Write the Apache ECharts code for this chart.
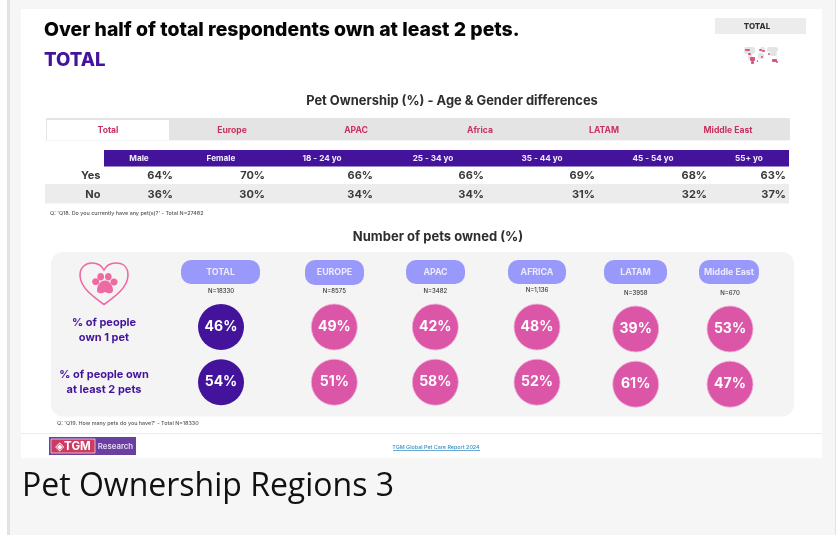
<!DOCTYPE html>
<html><head><meta charset="utf-8">
<style>html,body{margin:0;padding:0;background:#fff}#c{width:836px;height:535px}</style>
<script src="https://cdn.jsdelivr.net/npm/echarts@6/dist/echarts.min.js"></script>
</head><body><div id="c"></div>
<script>
// ---- data ----
const tabs = ['Total','Europe','APAC','Africa','LATAM','Middle East'];
const ownershipColumns = ['Male','Female','18 - 24 yo','25 - 34 yo','35 - 44 yo','45 - 54 yo','55+ yo'];
const ownershipRows = ['Yes','No'];
const ownershipYes = [64,70,66,66,69,68,63];
const ownershipNo = [36,30,34,34,31,32,37];
const regions = ['TOTAL','EUROPE','APAC','AFRICA','LATAM','Middle East'];
const sampleSizes = ['N=18330','N=8575','N=3482','N=1,136','N=3958','N=670'];
const petRows = ['% of people own 1 pet','% of people own at least 2 pets'];
const ownOnePet = [46,49,42,48,39,53];
const ownTwoPlus = [54,51,58,52,61,47];

// ---- layout ----
const FONT='Inter, "DejaVu Sans", sans-serif';
const PURPLE='#43139b', PINK='#dc56a8', LILAC='#9999fb', RED='#c9305f', INK='#2e2e2e';
const colRight=[173,265,373,484,595,707,786];
const headCenter=[139,221,322,433,542,653,749];
const regionX=[221,334.3,435.3,537,635.7,730];
const regionY=[327,327,327,327,329,329];
const pills=[[181,260],[305,364],[406,465],[508,566],[604,667],[699,759]];
const nY=[291,291,291,290.5,293,293];

const grids=[],xAxes=[],yAxes=[],series=[],gfx=[];
function text(x,y,s,size,color,weight,align,family){
  gfx.push({type:'text',x,y,z:5,silent:true,style:{text:s,fontSize:size,fontWeight:weight||700,fontFamily:family||FONT,fill:color||INK,align:align||'left',verticalAlign:'middle'}});
}
function rect(x,y,w,h,fill,r,stroke){
  gfx.push({type:'rect',z:1,silent:true,shape:{x,y,width:w,height:h,r:r||0},style:stroke?{fill:'none',stroke,lineWidth:.8}:{fill}});
}

// page
rect(0,0,836,535,'#f6f6f6');
rect(0,0,7,535,'#ffffff');
rect(7,0,3,535,'#e2e2e2');
rect(21,9,801,449,'#ffffff');
rect(835,0,1,535,'#e2e2e2');
text(22,486.5,'Pet Ownership Regions 3',32,'#111111',400,'left','"Open Sans", sans-serif');

// heading
text(44,30,'Over half of total respondents own at least 2 pets.',19.4,'#050505',800);
text(44,60,'TOTAL',18.6,PURPLE,800);
rect(715,18,91,16,'#ececec');
text(757,26.5,'TOTAL',8,'#333',800,'center');

// small world map (decorative)
const land=[[744,47,11,7],[760,47,5,5],[758,53,6,6],[767,47,11,5],[748,54,4,6],[770,52,7,4]];
land.forEach(a=>rect(a[0],a[1],a[2],a[3],'#e4e4e4',2));
const dots=[[745,49,5,2],[748,53,3,2],[750,57,5,4],[751,61,3,3],[759,49,3,2],[762,50,3,2],[761,56,2,2],[768,53,2,2],[772,59,5,3],[776,61,2,2],[757,60,1,2]];
dots.forEach(a=>rect(a[0],a[1],a[2],a[3],'#d8557c',1));

// table section
text(452,101,'Pet Ownership (%) - Age & Gender differences',12.9,INK,700,'center');
rect(46,118,744,22,'#e4e4e4',1);
rect(47,120,122,20.5,'#ffffff',1);
rect(45,140,745,1,'#f4f4f4');
rect(104,150,685,16.5,PURPLE);
rect(45,184,744,19.5,'#ececec');
text(50,213,"Q: 'Q18. Do you currently have any pet(s)?' - Total N=27482",5.4,'#555',500);

// tabs: one grid with a uniform category axis
grids.push({left:46,width:744,top:120,height:20});
xAxes.push({gridIndex:0,type:'category',data:tabs,position:'top',z:6,axisLine:{show:false},axisTick:{show:false},
  axisLabel:{inside:true,margin:5.5,color:RED,fontSize:8.6,fontWeight:700,fontFamily:FONT,interval:0}});
yAxes.push({gridIndex:0,type:'value',show:false});

// ownership table: one grid per column
ownershipColumns.forEach((c,i)=>{
  const g=grids.length;
  grids.push({left:colRight[i]-60,width:60,top:166.5,height:38});
  xAxes.push({gridIndex:g,type:'category',data:[c],show:false});
  yAxes.push({gridIndex:g,type:'category',data:ownershipRows,inverse:true,show:false});
  series.push({type:'scatter',xAxisIndex:g,yAxisIndex:g,symbolSize:1,silent:true,z:6,
    itemStyle:{opacity:0},
    data:[[c,'Yes',ownershipYes[i]],[c,'No',ownershipNo[i]]],
    label:{show:true,opacity:1,position:'inside',formatter:p=>p.value[2]+'%',offset:[30,0],align:'right',
      color:'#3a3a3a',fontSize:11,fontWeight:700,fontFamily:FONT}});
  text(headCenter[i],159,c,8.2,'#f3eefc',700,'center');
});
ownershipRows.forEach((r,i)=>text(100.5,175.5+i*19,r,11,'#3a3a3a',700,'right'));

// pets section
text(438,237,'Number of pets owned (%)',13,INK,700,'center');
rect(51,252,743,164.5,'#f4f4f4',12);
// heart + paw
echarts.graphic.registerShape('heartOutline',echarts.graphic.extendShape({buildPath(ctx){
  ctx.moveTo(104,304.5);ctx.bezierCurveTo(92,296,80,287,80,275);ctx.bezierCurveTo(80,267,86,263,92,263);
  ctx.bezierCurveTo(98,263,102,266,104,270);ctx.bezierCurveTo(106,266,110,263,116,263);
  ctx.bezierCurveTo(123,263,128,267,128,275);ctx.bezierCurveTo(128,287,116,296,104,304.5);ctx.closePath();
}}));
echarts.graphic.registerShape('pawPad',echarts.graphic.extendShape({buildPath(ctx){
  ctx.moveTo(105,280.5);ctx.bezierCurveTo(109.5,280.5,112.5,285,113,289.5);ctx.bezierCurveTo(113.5,293.5,109,294.5,105,292);
  ctx.bezierCurveTo(101,294.5,96.5,293.5,97,289.5);ctx.bezierCurveTo(97.5,285,100.5,280.5,105,280.5);ctx.closePath();
}}));
gfx.push({type:'heartOutline',z:3,silent:true,shape:{},style:{fill:'none',stroke:'#ee6aa3',lineWidth:1.6}});
[[95.7,281.7,3.6,3.4],[100.7,276.7,3.4,3.8],[108.3,276.7,3.4,3.8],[114,282,3.6,3.4]].forEach(a=>gfx.push({type:'ellipse',z:3,silent:true,shape:{cx:a[0],cy:a[1],rx:a[2],ry:a[3]},style:{fill:'#ee6aa3'}}));
gfx.push({type:'pawPad',z:3,silent:true,shape:{},style:{fill:'#ee6aa3'}});

text(104,322.5,'% of people',11,PURPLE,700,'center');
text(104,338,'own 1 pet',11,PURPLE,700,'center');
text(104,374.5,'% of people own',11,PURPLE,700,'center');
text(104,390,'at least 2 pets',11,PURPLE,700,'center');

regions.forEach((r,i)=>{
  const p=pills[i];
  rect(p[0],260,p[1]-p[0],i===1?25:24,LILAC,10);
  text((p[0]+p[1])/2,272.5,r,8.8,'#ebebff',700,'center');
  text(regionX[i],nY[i],sampleSizes[i],6,'#333',500,'center');
  const g=grids.length, step=55.2;
  grids.push({left:regionX[i]-30,width:60,top:regionY[i]-step/2,height:step*2});
  xAxes.push({gridIndex:g,type:'category',data:[r],show:false});
  yAxes.push({gridIndex:g,type:'category',data:petRows,inverse:true,show:false});
  series.push({type:'scatter',xAxisIndex:g,yAxisIndex:g,symbol:'circle',symbolSize:46,silent:true,z:6,
    itemStyle:{color:i===0?PURPLE:PINK,borderColor:i===0?PURPLE:'#eeb4d8',borderWidth:i===0?0:.8,opacity:1},
    data:[[r,petRows[0],ownOnePet[i]],[r,petRows[1],ownTwoPlus[i]]],
    label:{show:true,position:'inside',formatter:d=>d.value[2]+'%',color:'#fff',fontSize:14,fontWeight:700,fontFamily:FONT}});
});
text(57,423,"Q: 'Q19. How many pets do you have?' - Total N=18330",5.4,'#555',500);

// footer
rect(21,433,801,1,'#ececec');
rect(49,437,87,18,'#6a3fa0');
rect(51,439,44,14,'#cc3b63');
rect(51,439,44,14,null,0,'#f1d7df');
text(73,446.5,'◈TGM',11.5,'#fff',700,'center');
text(115.5,446.5,'Research',7.8,'#e6dcf3',600,'center');
text(436,447,'TGM Global Pet Care Report 2024',5.4,'#3b8fc4',500,'center');
rect(393,450.3,87,.7,'#3b8fc4');

const chart=echarts.init(document.getElementById('c'),null,{renderer:'canvas'});
chart.setOption({animation:false,backgroundColor:'#fff',tooltip:{show:false},
  grid:grids,xAxis:xAxes,yAxis:yAxes,series,graphic:{elements:gfx}});
</script></body></html>
